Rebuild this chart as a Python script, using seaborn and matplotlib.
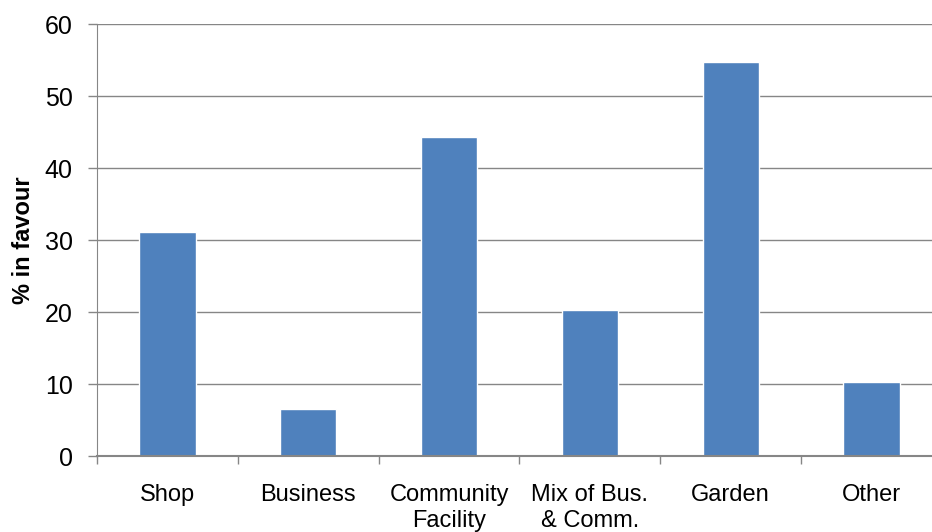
import matplotlib
matplotlib.use('Agg')
import numpy as np
import pandas as pd
import matplotlib.pyplot as plt
import seaborn as sns

# Values
categories = ['Shop', 'Business', 'Community\nFacility', 'Mix of Bus.\n& Comm.', 'Garden', 'Other']
pct_in_favour = [31.1, 6.5, 44.3, 20.3, 54.7, 10.3]
y_ticks = [0, 10, 20, 30, 40, 50, 60]

df = pd.DataFrame({'category': categories, 'pct': pct_in_favour})

sns.set_style('white')
plt.rcParams['font.family'] = ['Liberation Sans', 'DejaVu Sans']
plt.rcParams['text.color'] = 'black'
plt.rcParams['xtick.color'] = 'black'
plt.rcParams['ytick.color'] = 'black'
plt.rcParams['axes.labelcolor'] = 'black'

grey = '#868686'
fig = plt.figure(figsize=(9.32, 5.32), dpi=100)
ax = fig.add_axes([97 / 932, (532 - 456) / 532, (942 - 97) / 932, (456 - 24) / 532])

sns.barplot(data=df, x='category', y='pct', color='#4F81BD', saturation=1,
            width=0.4, ax=ax, zorder=2)

ax.set_ylim(0, 60)
ax.set_xlim(-0.5, len(categories) - 0.5)
ax.set_yticks(y_ticks)
ax.yaxis.grid(True, color=grey, linewidth=1, zorder=0)
ax.set_axisbelow(True)

for side in ['top', 'right']:
    ax.spines[side].set_visible(False)
ax.spines['left'].set_color(grey)
ax.spines['bottom'].set_color(grey)
ax.spines['bottom'].set_linewidth(1.5)
ax.spines['bottom'].set_zorder(3)

# category boundary ticks
ax.set_xticks(np.arange(-0.5, len(categories), 1), minor=True)
ax.tick_params(axis='x', which='major', bottom=True, length=0, pad=20, labelsize=17)
ax.tick_params(axis='x', which='minor', bottom=True, length=6, width=1, color=grey, direction='out')
ax.tick_params(axis='y', left=True, length=6.5, width=1, color=grey, direction='out', pad=11, labelsize=18)
for lab in ax.get_xticklabels():
    lab.set_linespacing(1.25)

ax.set_xlabel('')
ax.set_ylabel('% in favour', fontsize=17, fontweight='bold', labelpad=7)

fig.savefig('out.png', dpi=100)
